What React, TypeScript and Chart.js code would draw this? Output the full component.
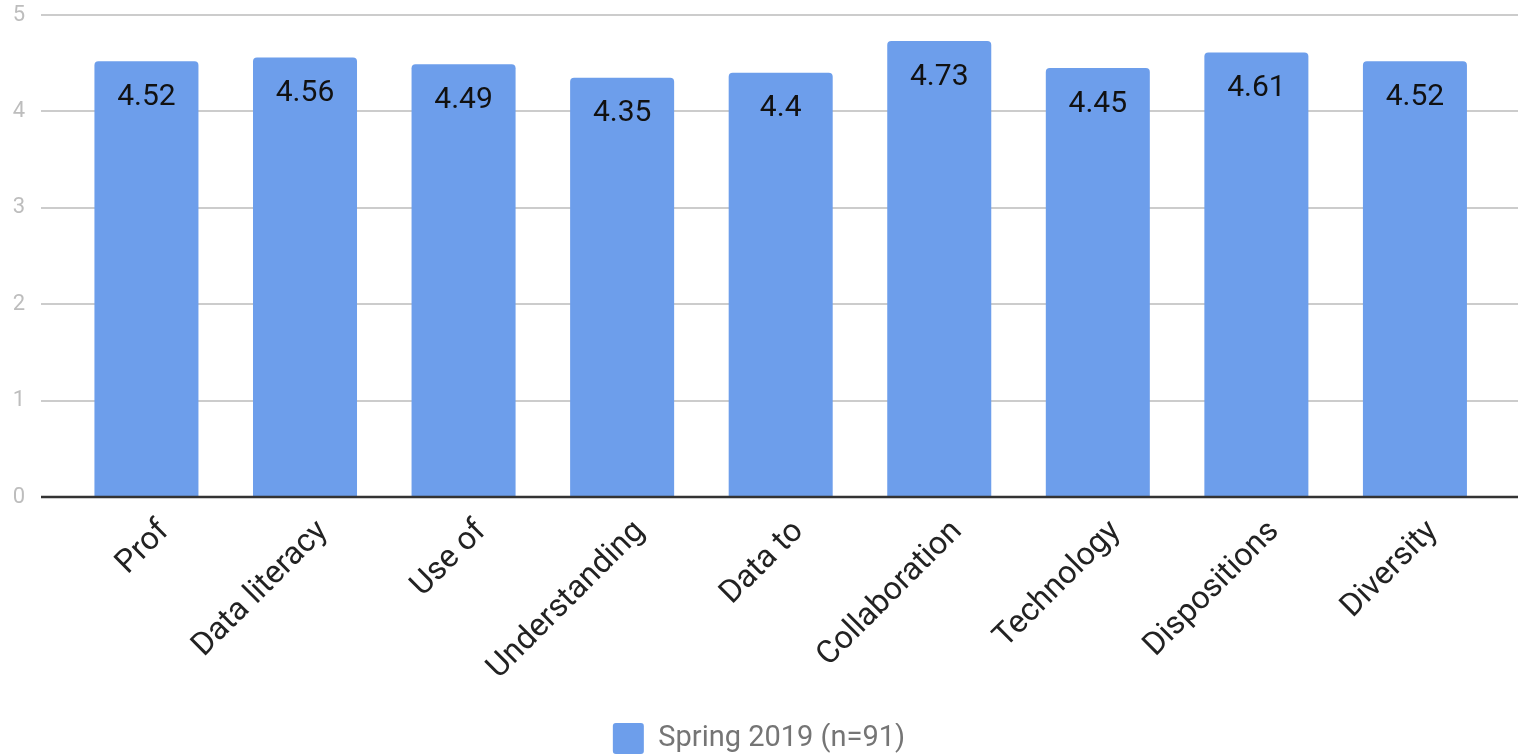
import React, { useEffect, useRef } from "react";
import { Chart, registerables } from "chart.js";

Chart.register(...registerables);

const categories = [
  "Prof",
  "Data literacy",
  "Use of",
  "Understanding",
  "Data to",
  "Collaboration",
  "Technology",
  "Dispositions",
  "Diversity",
];
const seriesLabel = "Spring 2019 (n=91)";
const values = [4.52, 4.56, 4.49, 4.35, 4.4, 4.73, 4.45, 4.61, 4.52];
const yTicks = [0, 1, 2, 3, 4, 5];

const BAR_COLOR = "#6d9eeb";
const FONT = "Roboto";

export default function App() {
  const ref = useRef<HTMLCanvasElement>(null);

  useEffect(() => {
    if (!ref.current) return;

    const valueLabels = {
      id: "valueLabels",
      afterDatasetsDraw(chart: any) {
        const { ctx, chartArea } = chart;
        const yScale = chart.scales.y;
        ctx.save();
        const y0 = yScale.getPixelForValue(0);
        ctx.strokeStyle = "#333333";
        ctx.lineWidth = 2.5;
        ctx.beginPath();
        ctx.moveTo(chartArea.left, y0);
        ctx.lineTo(chartArea.right, y0);
        ctx.stroke();
        const meta = chart.getDatasetMeta(0);
        ctx.font = `30px ${FONT}`;
        ctx.fillStyle = "#111111";
        ctx.textAlign = "center";
        ctx.textBaseline = "middle";
        meta.data.forEach((bar: any, i: number) => {
          ctx.fillText(String(values[i]), bar.x, bar.y + 36);
        });
        ctx.restore();
      },
    };

    const chart = new Chart(ref.current, {
      type: "bar",
      data: {
        datasets: [
          {
            label: seriesLabel,
            data: values.map((v, i) => ({ x: i, y: v })) as any,
            backgroundColor: BAR_COLOR,
            borderRadius: 4,
            categoryPercentage: 1,
            barPercentage: 0.656,
          },
        ],
      },
      options: {
        responsive: false,
        animation: false,
        devicePixelRatio: 1,
        layout: { padding: { top: 15, left: 0, right: 0, bottom: -8 } },
        plugins: {
          tooltip: { enabled: false },
          legend: {
            position: "bottom",
            labels: {
              font: { family: FONT, size: 29 },
              color: "#757575",
              boxWidth: 31,
              boxHeight: 31,
              padding: 0,
              useBorderRadius: true,
              borderRadius: 3,
            },
          },
        },
        scales: {
          x: {
            type: "linear",
            offset: false,
            min: -0.665,
            max: 8.65,
            afterBuildTicks: (s: any) => {
              s.ticks = categories.map((_, i) => ({ value: i }));
            },
            afterFit: (s: any) => {
              s.height = 226;
              s.paddingLeft = 0;
              s.paddingRight = 0;
            },
            ticks: {
              autoSkip: false,
              minRotation: 45,
              maxRotation: 45,
              labelOffset: 18,
              padding: 16,
              font: { family: FONT, size: 32 },
              color: "#222222",
              callback: (v: any) => categories[v] ?? "",
            },
            grid: { display: false, drawTicks: false, offset: false },
            border: { display: false },
          },
          y: {
            min: 0,
            max: 5,
            afterBuildTicks: (s: any) => {
              s.ticks = yTicks.map((v) => ({ value: v }));
            },
            afterFit: (s: any) => {
              s.width = 41;
              s.paddingTop = 12;
              s.paddingBottom = 12;
            },
            ticks: {
              color: "#bdbdbd",
              font: { family: FONT, size: 22 },
              padding: 16,
            },
            grid: {
              drawTicks: false,
              color: "#cccccc",
              lineWidth: 2,
            },
            border: { display: false },
          },
        },
      },
      plugins: [valueLabels],
    } as any);

    return () => chart.destroy();
  }, []);

  return (
    <div style={{ position: "absolute", left: 0, top: 0, width: 1518, height: 756, background: "#fff" }}>
      <canvas ref={ref} width={1518} height={756} style={{ display: "block" }} />
    </div>
  );
}
